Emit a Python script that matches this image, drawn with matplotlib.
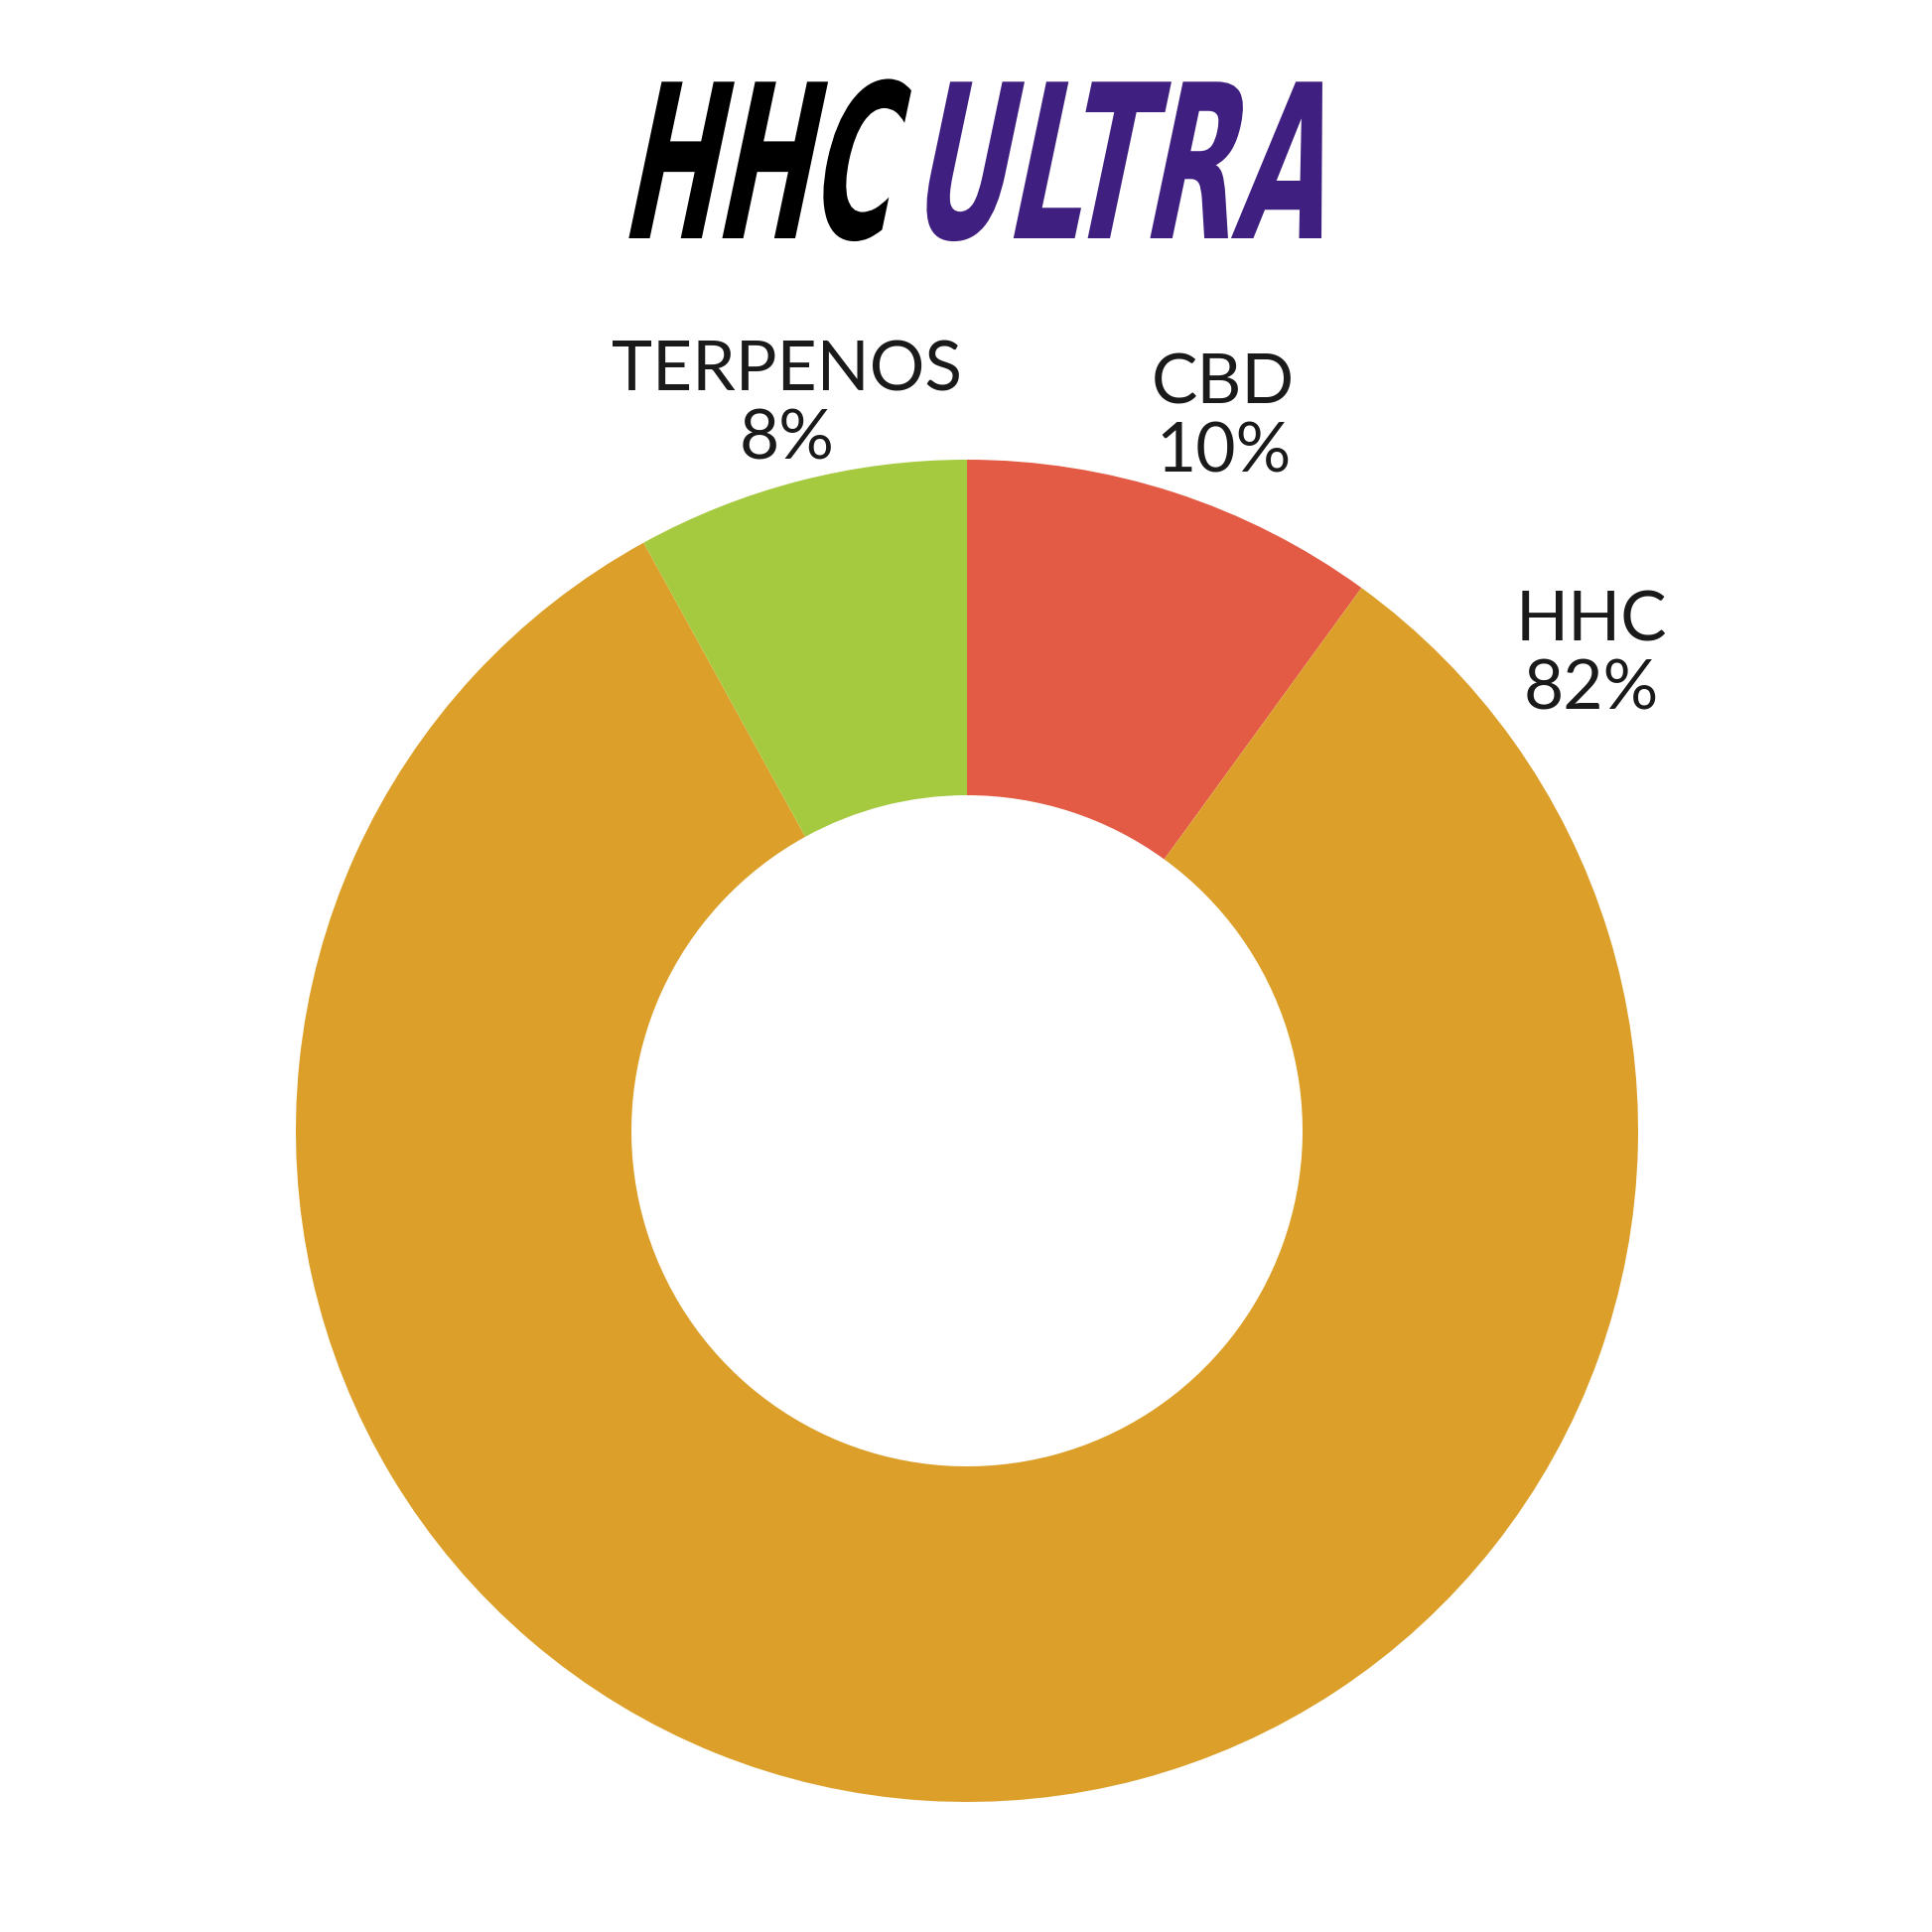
import numpy as np
import matplotlib
matplotlib.use("Agg")
import matplotlib.pyplot as plt
import matplotlib.patheffects as pe
from matplotlib.transforms import Affine2D

# ---- data ----
categories = ["CBD", "HHC", "TERPENOS"]
values = [10, 82, 8]
pct_labels = ["10%", "82%", "8%"]
colors = ["#E35B45", "#DCA02A", "#A5C93F"]
title_parts = ["HHC", "ULTRA"]
title_colors = ["#000000", "#3F2080"]

W = H = 1946
DPI = 100
fig = plt.figure(figsize=(W / DPI, H / DPI), dpi=DPI, facecolor="white")

# donut axes
cx, cy, R = 974, 1139, 676
ax = fig.add_axes([(cx - R) / W, (H - cy - R) / H, 2 * R / W, 2 * R / H])
ax.pie(values, colors=colors, startangle=90, counterclock=False, radius=1,
       wedgeprops=dict(width=0.5, linewidth=0))
ax.set_xlim(-1, 1)
ax.set_ylim(-1, 1)
ax.set_aspect("equal")
ax.axis("off")

label_pos = {"TERPENOS": (-0.268, 1.080), "CBD": (0.382, 1.062), "HHC": (0.930, 0.708)}
for cat, pct in zip(categories, pct_labels):
    x, y = label_pos[cat]
    ax.text(x, y, f"{cat}\n{pct}", ha="center", va="center", fontsize=50,
            family="Lato", color="#1A1A1A", linespacing=1.12)


class Stretch(pe.AbstractPathEffect):
    """Tall, slanted rendering of the title glyphs (condensed display look)."""
    def __init__(self, sx=1.0, sy=1.923, slant=0.21):
        super().__init__()
        self.m = Affine2D(np.array([[sx, slant * sy, 0.0], [0.0, sy, 0.0], [0.0, 0.0, 1.0]]))

    def draw_path(self, renderer, gc, tpath, affine, rgbFace=None):
        renderer.draw_path(gc, tpath, self.m + affine, rgbFace)


base_y = (H - 240) / H
xs = [623, 913]
sxs = [1.0, 1.06]
for part, col, x, sx in zip(title_parts, title_colors, xs, sxs):
    fig.text(x / W, base_y, part, ha="left", va="baseline", fontsize=81,
             family="DejaVu Sans", fontweight="bold", color=col,
             path_effects=[Stretch(sx=sx)])

fig.savefig("out.png", dpi=DPI, facecolor="white")
